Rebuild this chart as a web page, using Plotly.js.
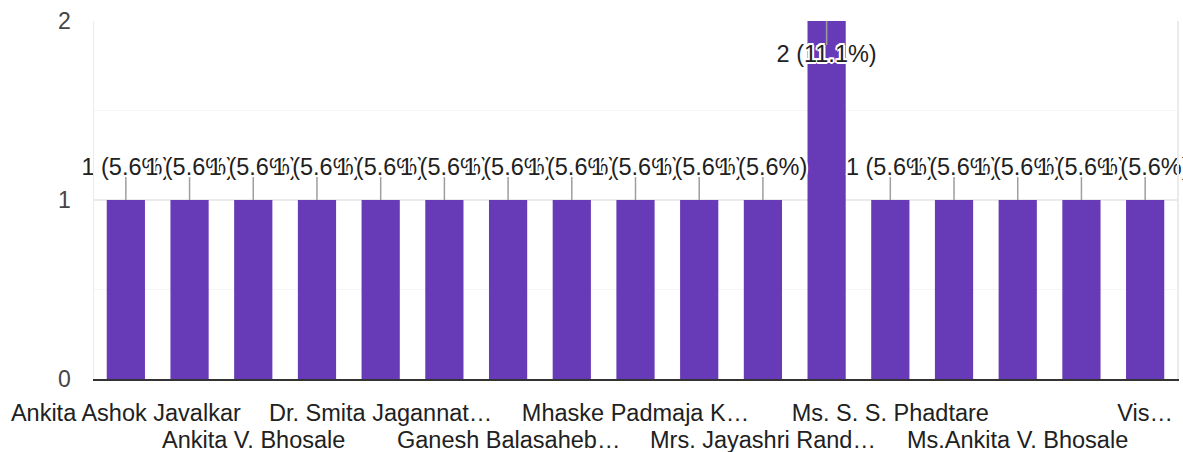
<!DOCTYPE html>
<html>
<head>
<meta charset="utf-8">
<script src="https://cdn.plot.ly/plotly-3.0.1.min.js"></script>
<style>html,body{margin:0;padding:0;background:#fff;}#chart{width:1183px;height:452px;}</style>
</head>
<body>
<div id="chart"></div>
<script>
// Category labels as shown (only every second one is printed on the axis; others unreadable)
const categories = [
  "Ankita Ashok Javalkar", "", "Ankita V. Bhosale", "", "Dr. Smita Jagannat…", "",
  "Ganesh Balasaheb…", "", "Mhaske Padmaja K…", "", "Mrs. Jayashri Rand…", "",
  "Ms. S. S. Phadtare", "", "Ms.Ankita V. Bhosale", "", "Vis…"
];
const counts = [1, 1, 1, 1, 1, 1, 1, 1, 1, 1, 1, 2, 1, 1, 1, 1, 1];
const yTicks = [0, 1, 2];

const total = counts.reduce((a, b) => a + b, 0);
const idx = counts.map((_, i) => i);
const yMax = yTicks[yTicks.length - 1];
const labels = counts.map(v => v + " (" + (v / total * 100).toFixed(1) + "%)");

const lineX = [], lineY = [], textY = [];
counts.forEach((v, i) => {
  const atTop = v >= yMax;
  const end = atTop ? v - 0.134 : v + 0.128;
  textY.push(atTop ? v - 0.196 : v + 0.175);
  lineX.push(i, i, null);
  lineY.push(v, end, null);
});

const font = "Liberation Sans, Arial, sans-serif";

// first row of axis labels as ticks, second (staggered) row as annotations
const tickText = categories.map((c, i) => (i % 4 === 0 ? c : ""));
const rowTwo = [];
categories.forEach((c, i) => {
  if (i % 4 === 2) {
    rowTwo.push({
      x: i, y: 0, xref: "x", yref: "y", text: c, showarrow: false,
      yanchor: "middle", xanchor: "center", yshift: -61,
      font: {family: font, size: 23.5, color: "#212121"}
    });
  }
});

const halo = "2px 0 0 #fff, -2px 0 0 #fff, 0 2px 0 #fff, 0 -2px 0 #fff, 1.5px 1.5px 0 #fff, -1.5px -1.5px 0 #fff, 1.5px -1.5px 0 #fff, -1.5px 1.5px 0 #fff";

const data = [
  {
    type: "bar", x: idx, y: counts,
    marker: {color: "#673ab7"},
    hoverinfo: "skip"
  },
  {
    type: "scatter", mode: "lines", x: lineX, y: lineY,
    line: {color: "#9e9e9e", width: 1.5},
    hoverinfo: "skip", cliponaxis: false
  },
  {
    type: "scatter", mode: "text", x: idx, y: textY, text: labels,
    textposition: "middle center",
    textfont: {family: font, size: 23.5, color: "#212121", shadow: halo},
    hoverinfo: "skip", cliponaxis: false
  }
];

const layout = {
  width: 1183, height: 452,
  margin: {l: 94, r: 6, t: 21, b: 73},
  paper_bgcolor: "#fff", plot_bgcolor: "#fff",
  showlegend: false,
  bargap: 0.4,
  font: {family: font, color: "#212121"},
  annotations: rowTwo,
  xaxis: {
    range: [-0.5, counts.length - 0.5],
    tickmode: "array", tickvals: idx, ticktext: tickText,
    tickangle: 0, automargin: false,
    showgrid: false, zeroline: false, ticks: "",
    showline: true, linecolor: "#333", linewidth: 2,
    tickfont: {family: font, size: 23.5, color: "#212121"},
    ticklabelstandoff: 12
  },
  yaxis: {
    range: [0, yMax],
    tickmode: "array", tickvals: yTicks,
    showgrid: true, gridcolor: "#ebebeb", gridwidth: 1.5,
    minor: {dtick: 0.5, showgrid: true, gridcolor: "#f5f5f5", gridwidth: 1},
    zeroline: false, ticks: "",
    showline: true, linecolor: "#ebebeb", linewidth: 1.5, mirror: true,
    tickfont: {family: font, size: 23, color: "#444"},
    ticklabelstandoff: 17, automargin: false
  }
};

Plotly.newPlot("chart", data, layout, {displayModeBar: false, staticPlot: true});
</script>
</body>
</html>
